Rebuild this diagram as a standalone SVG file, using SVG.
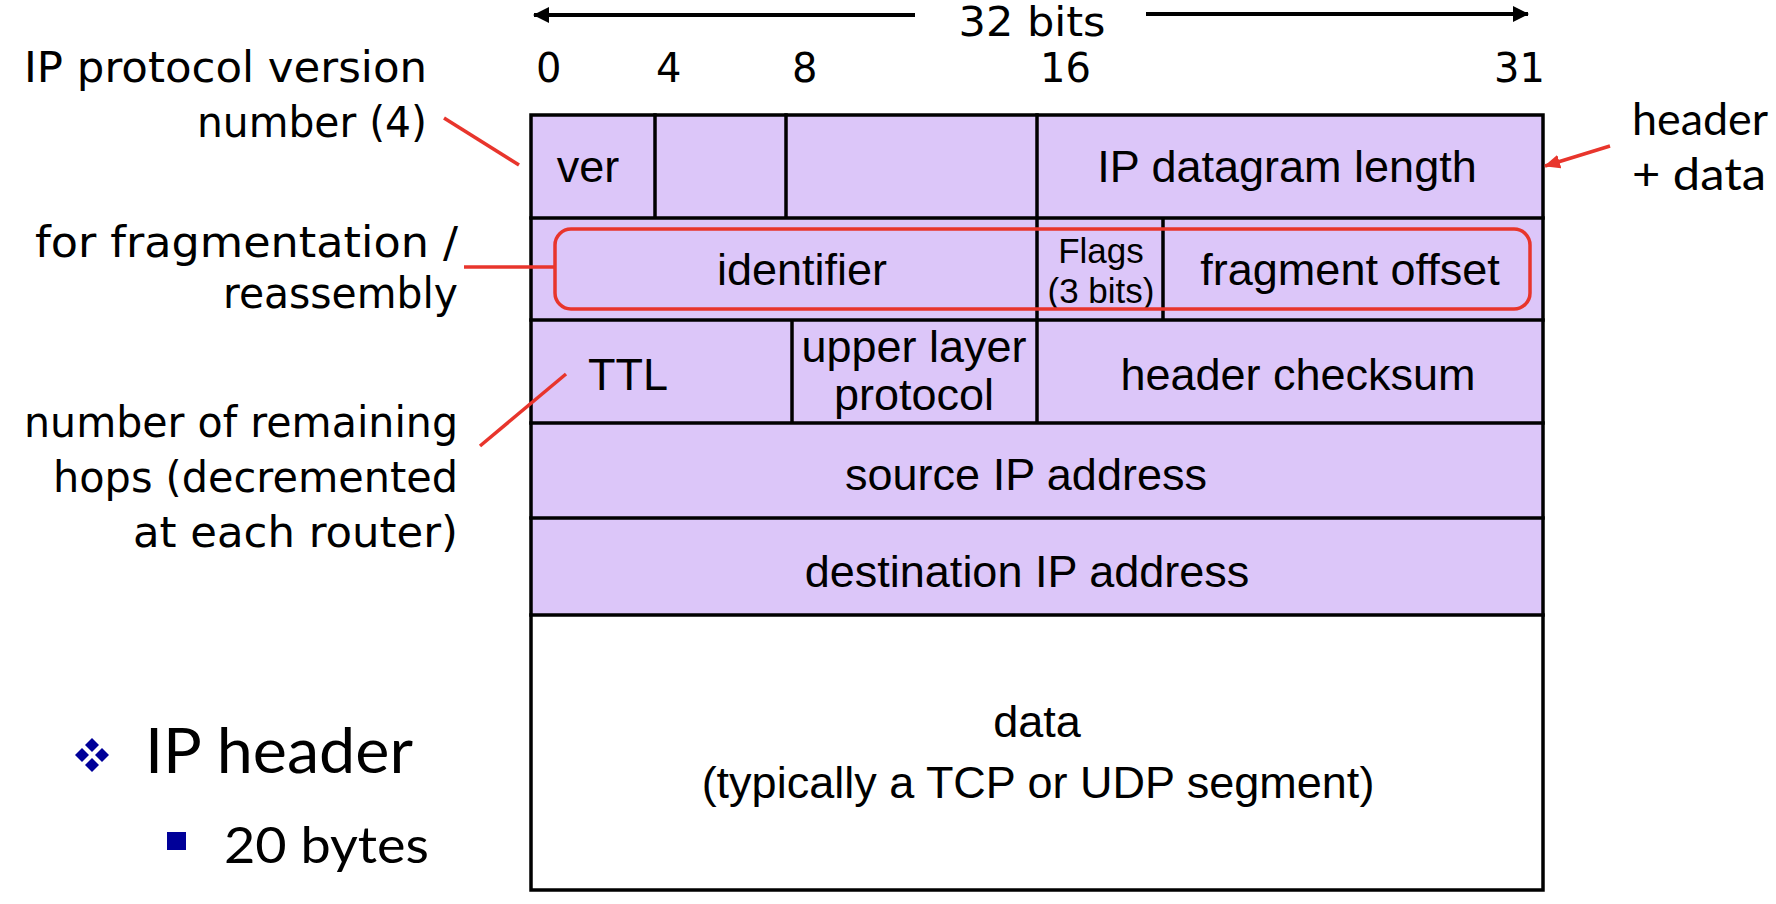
<svg xmlns="http://www.w3.org/2000/svg" width="1776" height="904" viewBox="0 0 1776 904">
<defs>
<style>
.cell{fill:#DCC6F9;stroke:none}
.grid{stroke:#000;stroke-width:3.5;fill:none;stroke-linecap:square}
.t{font-family:"Liberation Sans",Arial,sans-serif;font-size:45px;fill:#000;text-anchor:middle}
.ts{font-family:"Liberation Sans",Arial,sans-serif;font-size:35px;fill:#000;text-anchor:middle}
.c{font-family:"DejaVu Sans","Noto Sans",sans-serif;font-size:43px;fill:#000;text-anchor:end}
.n{font-family:"DejaVu Sans","Noto Sans",sans-serif;font-size:40px;fill:#000}
.h{font-family:"Lato","Open Sans",sans-serif;fill:#000}
.red{stroke:#E8352C;stroke-width:3.5;fill:none}
.blk{stroke:#000;stroke-width:4;fill:none}
</style>
<marker id="ah" viewBox="0 0 16 16" refX="15" refY="8" markerWidth="16" markerHeight="16" markerUnits="userSpaceOnUse" orient="auto">
<path d="M0,0 L16,8 L0,16 Z" fill="#000"/>
</marker>
<marker id="rh" viewBox="0 0 16 14" refX="15" refY="7" markerWidth="16" markerHeight="14" markerUnits="userSpaceOnUse" orient="auto">
<path d="M0,0 L16,7 L0,14 Z" fill="#E8352C"/>
</marker>
</defs>
<rect width="1776" height="904" fill="#fff"/>

<g id="bit-scale">
<text class="n" x="1032" y="36" font-size="37" text-anchor="middle" textLength="147" lengthAdjust="spacingAndGlyphs">32 bits</text>
<text class="n" x="536" y="82">0</text>
<text class="n" x="656" y="82">4</text>
<text class="n" x="792" y="82">8</text>
<text class="n" x="1040" y="82">16</text>
<text class="n" x="1494" y="82">31</text>
</g>

<g id="header-table">
<rect class="cell" x="531" y="115" width="1012" height="500"/>
<rect x="531" y="615" width="1012" height="275" fill="#fff"/>
<rect class="grid" x="531" y="115" width="1012" height="775"/>
<path class="grid" d="M531,218 H1543 M531,320 H1543 M531,423 H1543 M531,518 H1543 M531,615 H1543 M655,115 V218 M786,115 V218 M1037,115 V423 M1163,218 V320 M792,320 V423"/>
</g>

<g id="ver"><text class="t" x="588" y="182">ver</text></g>
<g id="length"><text class="t" x="1287" y="182">IP datagram length</text></g>
<g id="identifier"><text class="t" x="802" y="285">identifier</text></g>
<g id="flags"><text class="ts" x="1101" y="263">Flags</text><text class="ts" x="1101" y="303">(3 bits)</text></g>
<g id="fragment-offset"><text class="t" x="1350" y="285">fragment offset</text></g>
<g id="ttl"><text class="t" x="628" y="390">TTL</text></g>
<g id="upper-layer"><text class="t" x="914" y="362">upper layer</text><text class="t" x="914" y="410">protocol</text></g>
<g id="checksum"><text class="t" x="1298" y="390">header checksum</text></g>
<g id="source"><text class="t" x="1026" y="490">source IP address</text></g>
<g id="destination"><text class="t" x="1027" y="587">destination IP address</text></g>
<g id="data"><text class="t" x="1037" y="737">data</text><text class="t" x="1038" y="798">(typically a TCP or UDP segment)</text></g>

<g id="fragment-highlight"><rect class="red" x="555" y="229" width="975" height="80" rx="16"/></g>

<g id="label-version">
<text class="c" x="427" y="82" textLength="403" lengthAdjust="spacingAndGlyphs">IP protocol version</text>
<text class="c" x="427" y="137" textLength="230" lengthAdjust="spacingAndGlyphs">number (4)</text>
</g>
<g id="label-fragmentation">
<text class="c" x="458" y="257" textLength="423" lengthAdjust="spacingAndGlyphs">for fragmentation /</text>
<text class="c" x="458" y="308" textLength="235" lengthAdjust="spacingAndGlyphs">reassembly</text>
</g>
<g id="label-hops">
<text class="c" x="458" y="437" textLength="434" lengthAdjust="spacingAndGlyphs">number of remaining</text>
<text class="c" x="458" y="492" textLength="405" lengthAdjust="spacingAndGlyphs">hops (decremented</text>
<text class="c" x="458" y="547" textLength="325" lengthAdjust="spacingAndGlyphs">at each router)</text>
</g>
<g id="label-length">
<text class="h" x="1632" y="135" font-size="45" textLength="136" lengthAdjust="spacingAndGlyphs">header</text>
<text class="h" x="1632" y="190" font-size="45" textLength="134" lengthAdjust="spacingAndGlyphs">+ data</text>
</g>

<g id="connectors">
<line class="blk" x1="915" y1="15" x2="534" y2="15" marker-end="url(#ah)"/>
<line class="blk" x1="1146" y1="14" x2="1528" y2="14" marker-end="url(#ah)"/>
<line class="red" x1="444" y1="118" x2="519" y2="165"/>
<line class="red" x1="464" y1="267" x2="555" y2="267"/>
<line class="red" x1="480" y1="446" x2="566" y2="374"/>
<line class="red" x1="1610" y1="146" x2="1545" y2="166" marker-end="url(#rh)"/>
</g>

<g id="bullets">
<g fill="#000099">
<polygon points="92,738 99,745 92,752 85,745"/>
<polygon points="82,748 89,755 82,762 75,755"/>
<polygon points="102,748 109,755 102,762 95,755"/>
<polygon points="92,758 99,765 92,772 85,765"/>
<rect x="167" y="832" width="19" height="18"/>
</g>
<text class="h" x="145" y="773" font-size="62" textLength="268" lengthAdjust="spacingAndGlyphs">IP header</text>
<text class="h" x="224" y="863" font-size="50" textLength="205" lengthAdjust="spacingAndGlyphs">20 bytes</text>
</g>
</svg>
